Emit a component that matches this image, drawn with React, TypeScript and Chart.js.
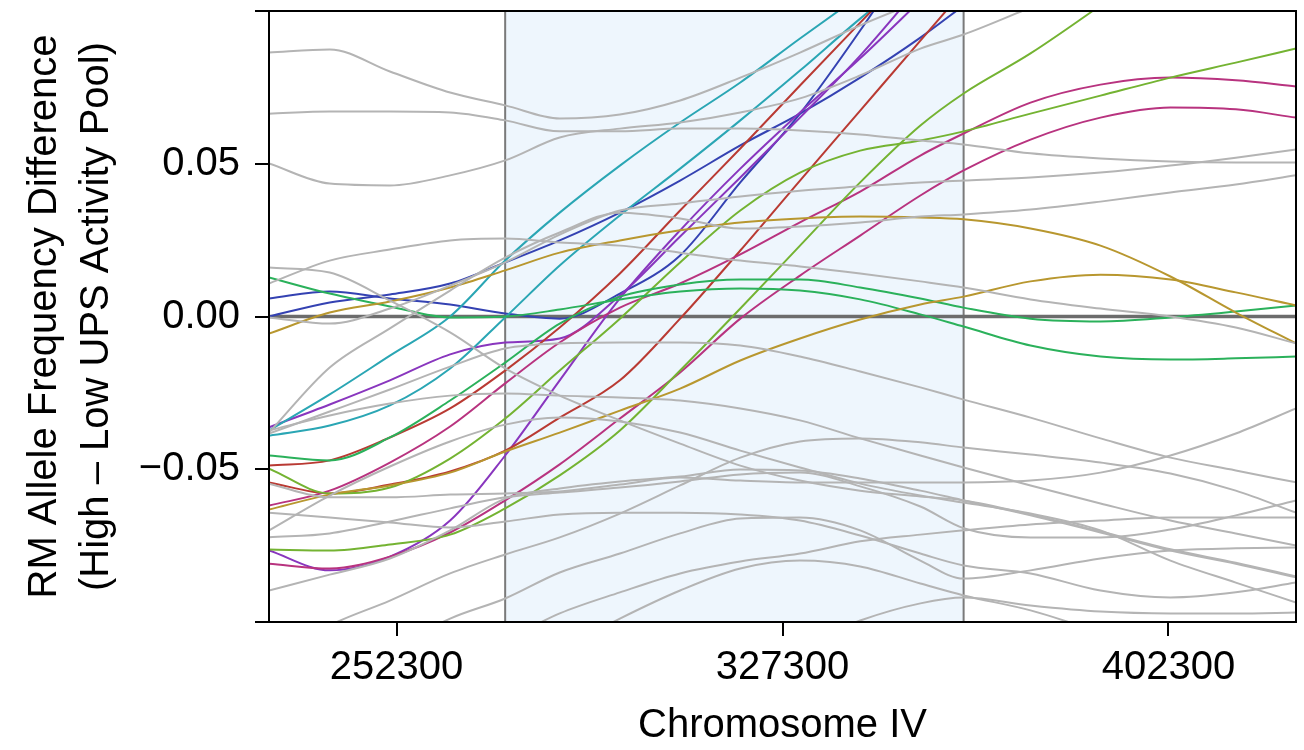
import React, { useEffect, useRef } from 'react';
import { Chart, registerables } from 'chart.js';

Chart.register(...registerables);

// ---- axes ----
const xMin = 227500;
const xMax = 427100;
const yMin = -0.1;
const yMax = 0.1;
const xTickValues = [252300, 327300, 402300];
const xTickLabels = ['252300', '327300', '402300'];
const yTickValues = [-0.1, -0.05, 0, 0.05, 0.1];
const yTickLabels = ['', '\u22120.05', '0.00', '0.05', ''];
const regionStart = 273400;
const regionEnd = 362500;
const xTitle = 'Chromosome IV';
const yTitle = ['RM Allele Frequency Difference', '(High \u2013 Low UPS Activity Pool)'];

// ---- sample positions along Chromosome IV ----
const positions = [227500, 239300, 251000, 262700, 273400, 284000, 295700, 307400, 319100, 330700, 342400, 354100, 362500, 375500, 389100, 402700, 415400, 427100];

// ---- highlighted series ----
const blueA = [0.0059, 0.0082, 0.0059, 0.0039, 0.0010, -0.0007, 0.0075, 0.0200, 0.0439, 0.0664, 0.0936, 0.1231, null, null, null, null, null, null];
const blueB = [0.0000, 0.0046, 0.0072, 0.0108, 0.0177, 0.0249, 0.0340, 0.0445, 0.0560, 0.0664, 0.0782, 0.0913, 0.1018, null, null, null, null, null];
const cyanA = [-0.0373, -0.0255, -0.0128, 0.0000, 0.0183, 0.0340, 0.0494, 0.0635, 0.0766, 0.0910, 0.1051, null, null, null, null, null, null, null];
const cyanB = [-0.0390, -0.0357, -0.0291, -0.0170, -0.0003, 0.0167, 0.0331, 0.0484, 0.0642, 0.0805, 0.0975, 0.1133, null, null, null, null, null, null];
const purpleA = [-0.0363, -0.0288, -0.0209, -0.0124, -0.0085, -0.0072, 0.0069, 0.0262, 0.0455, 0.0651, 0.0854, 0.1083, null, null, null, null, null, null];
const purpleB = [-0.0766, -0.0831, -0.0786, -0.0668, -0.0455, -0.0209, 0.0059, 0.0282, 0.0484, 0.0668, 0.0845, 0.1034, null, null, null, null, null, null];
const redA = [-0.0488, -0.0471, -0.0396, -0.0301, -0.0177, -0.0036, 0.0141, 0.0347, 0.0550, 0.0756, 0.0962, 0.1165, null, null, null, null, null, null];
const redB = [-0.0543, -0.0579, -0.0550, -0.0507, -0.0439, -0.0331, -0.0209, -0.0007, 0.0216, 0.0445, 0.0674, 0.0903, 0.1067, null, null, null, null, null];
const greenA = [0.0128, 0.0075, 0.0033, -0.0003, 0.0000, 0.0023, 0.0056, 0.0082, 0.0092, 0.0085, 0.0056, 0.0007, -0.0033, -0.0095, -0.0131, -0.0141, -0.0137, -0.0131];
const greenB = [-0.0455, -0.0471, -0.0396, -0.0275, -0.0151, -0.0023, 0.0065, 0.0105, 0.0121, 0.0121, 0.0095, 0.0059, 0.0029, -0.0007, -0.0016, -0.0003, 0.0016, 0.0036];
const limeA = [-0.0498, -0.0579, -0.0560, -0.0465, -0.0334, -0.0177, -0.0007, 0.0177, 0.0347, 0.0471, 0.0543, 0.0576, 0.0606, 0.0664, 0.0723, 0.0782, 0.0831, 0.0877];
const limeB = [-0.0763, -0.0766, -0.0746, -0.0714, -0.0628, -0.0520, -0.0373, -0.0177, 0.0026, 0.0232, 0.0439, 0.0625, 0.0730, 0.0861, 0.1018, 0.1182, null, null];
const magentaA = [-0.0619, -0.0570, -0.0478, -0.0360, -0.0219, -0.0085, 0.0029, 0.0108, 0.0203, 0.0308, 0.0409, 0.0527, 0.0599, 0.0700, 0.0759, 0.0782, 0.0773, 0.0753];
const magentaB = [-0.0809, -0.0825, -0.0786, -0.0707, -0.0602, -0.0484, -0.0334, -0.0183, -0.0007, 0.0134, 0.0265, 0.0396, 0.0478, 0.0579, 0.0651, 0.0684, 0.0678, 0.0651];
const goldA = [-0.0056, 0.0013, 0.0049, 0.0095, 0.0151, 0.0209, 0.0249, 0.0282, 0.0308, 0.0321, 0.0327, 0.0324, 0.0318, 0.0288, 0.0232, 0.0131, 0.0013, -0.0088];
const goldB = [-0.0632, -0.0583, -0.0553, -0.0511, -0.0442, -0.0380, -0.0308, -0.0236, -0.0144, -0.0072, -0.0010, 0.0039, 0.0065, 0.0115, 0.0137, 0.0121, 0.0079, 0.0036];

// ---- background (grey) series ----
const grey1 = [0.0864, 0.0874, 0.0802, 0.0733, 0.0691, 0.0648, 0.0661, 0.0707, 0.0782, 0.0864, 0.0953, 0.1034, null, null, null, null, null, null];
const grey2 = [0.0664, 0.0671, 0.0671, 0.0668, 0.0642, 0.0606, 0.0606, 0.0615, 0.0615, 0.0609, 0.0596, 0.0576, 0.0563, 0.0534, 0.0517, 0.0507, 0.0504, 0.0504];
const grey3 = [0.0501, 0.0435, 0.0429, 0.0462, 0.0511, 0.0586, 0.0615, 0.0635, 0.0668, 0.0714, 0.0789, 0.0877, 0.0923, 0.1011, 0.1100, null, null, null];
const grey4 = [0.0108, 0.0183, 0.0219, 0.0249, 0.0255, 0.0242, 0.0232, 0.0209, 0.0183, 0.0164, 0.0141, 0.0115, 0.0095, 0.0056, 0.0026, 0.0000, -0.0036, -0.0088];
const grey5 = [0.0160, 0.0144, 0.0052, -0.0052, -0.0170, -0.0259, -0.0340, -0.0416, -0.0488, -0.0537, -0.0570, -0.0589, -0.0602, -0.0648, -0.0704, -0.0762, -0.0806, -0.0851];
const grey6 = [-0.0003, -0.0023, 0.0026, 0.0101, 0.0177, 0.0268, 0.0347, 0.0370, 0.0393, 0.0412, 0.0426, 0.0439, 0.0445, 0.0455, 0.0471, 0.0494, 0.0520, 0.0547];
const grey7 = [-0.0380, -0.0167, -0.0039, 0.0085, 0.0193, 0.0275, 0.0340, 0.0321, 0.0288, 0.0295, 0.0308, 0.0327, 0.0334, 0.0350, 0.0376, 0.0406, 0.0432, 0.0462];
const grey8 = [-0.0383, -0.0311, -0.0239, -0.0164, -0.0105, -0.0088, -0.0085, -0.0085, -0.0095, -0.0131, -0.0180, -0.0232, -0.0272, -0.0331, -0.0399, -0.0462, -0.0504, -0.0543];
const grey9 = [-0.0373, -0.0324, -0.0285, -0.0259, -0.0252, -0.0259, -0.0265, -0.0275, -0.0301, -0.0340, -0.0399, -0.0455, -0.0494, -0.0553, -0.0612, -0.0668, -0.0710, -0.0750];
const grey10 = [-0.0700, -0.0586, -0.0491, -0.0409, -0.0354, -0.0331, -0.0344, -0.0380, -0.0439, -0.0494, -0.0547, -0.0586, -0.0609, -0.0645, -0.0700, -0.0799, -0.0871, -0.0936];
const grey11 = [-0.0547, -0.0592, -0.0592, -0.0583, -0.0579, -0.0573, -0.0550, -0.0527, -0.0537, -0.0543, -0.0543, -0.0543, -0.0543, -0.0537, -0.0511, -0.0455, -0.0383, -0.0301];
const grey12 = [-0.0723, -0.0710, -0.0671, -0.0628, -0.0592, -0.0576, -0.0560, -0.0540, -0.0517, -0.0511, -0.0556, -0.0622, -0.0693, -0.0723, -0.0723, -0.0697, -0.0651, -0.0602];
const grey13 = [-0.0897, -0.0845, -0.0792, -0.0700, -0.0596, -0.0563, -0.0540, -0.0524, -0.0501, -0.0504, -0.0530, -0.0570, -0.0602, -0.0651, -0.0707, -0.0766, -0.0809, -0.0854];
const grey14 = [-0.0642, -0.0658, -0.0674, -0.0691, -0.0671, -0.0648, -0.0642, -0.0642, -0.0648, -0.0668, -0.0717, -0.0776, -0.0815, -0.0841, -0.0897, -0.0920, -0.0903, -0.0871];
const grey15 = [-0.1126, -0.1011, -0.0930, -0.0841, -0.0779, -0.0723, -0.0645, -0.0553, -0.0462, -0.0409, -0.0399, -0.0412, -0.0429, -0.0452, -0.0478, -0.0514, -0.0570, -0.0642];
const grey16 = [null, -0.1224, -0.1093, -0.0989, -0.0923, -0.0838, -0.0776, -0.0710, -0.0661, -0.0658, -0.0700, -0.0799, -0.0858, -0.0831, -0.0792, -0.0766, -0.0759, -0.0756];
const grey17 = [null, null, null, null, -0.1061, -0.0972, -0.0903, -0.0841, -0.0802, -0.0776, -0.0736, -0.0714, -0.0700, -0.0681, -0.0668, -0.0658, -0.0658, -0.0658];
const grey18 = [null, null, null, null, null, -0.1093, -0.0989, -0.0897, -0.0825, -0.0799, -0.0818, -0.0874, -0.0913, -0.0962, -0.1034, null, null, null];
const grey19 = [null, null, null, null, null, null, null, null, null, -0.1077, -0.0995, -0.0939, -0.0920, -0.0946, -0.0966, -0.0972, -0.0972, -0.0969];

const GREY = '#b4b4b4';
const BLUE = '#3442b2';
const CYAN = '#2aa6b4';
const PURPLE = '#8936be';
const RED = '#b93a33';
const GREEN = '#2bb15b';
const LIME = '#74b332';
const MAGENTA = '#b8337f';
const GOLD = '#b8972f';

const greySeries = [grey1, grey2, grey3, grey4, grey5, grey6, grey7, grey8, grey9, grey10, grey11, grey12, grey13, grey14, grey15, grey16, grey17, grey18, grey19];
const colourSeries: [Array<number | null>, string][] = [
  [goldA, GOLD], [goldB, GOLD],
  [greenA, GREEN], [greenB, GREEN],
  [limeA, LIME], [limeB, LIME],
  [magentaA, MAGENTA], [magentaB, MAGENTA],
  [redA, RED], [redB, RED],
  [cyanA, CYAN], [cyanB, CYAN],
  [purpleA, PURPLE], [purpleB, PURPLE],
  [blueA, BLUE], [blueB, BLUE],
];

const FONT = '"Liberation Sans", Arial, Helvetica, sans-serif';

function toPoints(values: Array<number | null>) {
  return positions
    .map((x, i) => ({ x, y: values[i] }))
    .filter((p) => p.y !== null && p.y !== undefined);
}

function makeDataset(values: Array<number | null>, color: string) {
  return {
    data: toPoints(values),
    borderColor: color,
    borderWidth: 2,
    pointRadius: 0,
    fill: false,
    cubicInterpolationMode: 'monotone' as const,
    clip: 0,
  };
}

const decorPlugin = {
  id: 'decor',
  beforeDatasetsDraw(chart: any) {
    const { ctx, chartArea: a, scales } = chart;
    const x0 = scales.x.getPixelForValue(regionStart);
    const x1 = scales.x.getPixelForValue(regionEnd);
    ctx.save();
    ctx.fillStyle = '#eef6fd';
    ctx.fillRect(x0, a.top, x1 - x0, a.bottom - a.top);
    ctx.strokeStyle = '#7a7a7a';
    ctx.lineWidth = 2;
    ctx.beginPath();
    ctx.moveTo(x0, a.top);
    ctx.lineTo(x0, a.bottom);
    ctx.moveTo(x1, a.top);
    ctx.lineTo(x1, a.bottom);
    ctx.stroke();
    const y0 = scales.y.getPixelForValue(0);
    ctx.strokeStyle = '#6c6c6c';
    ctx.lineWidth = 3.5;
    ctx.beginPath();
    ctx.moveTo(a.left, y0);
    ctx.lineTo(a.right, y0);
    ctx.stroke();
    ctx.restore();
  },
  afterDraw(chart: any) {
    const { ctx, chartArea: a } = chart;
    ctx.save();
    ctx.strokeStyle = '#000';
    ctx.lineWidth = 2;
    ctx.strokeRect(a.left, a.top, a.right - a.left, a.bottom - a.top);
    ctx.restore();
  },
};

export default function App() {
  const canvasRef = useRef<HTMLCanvasElement>(null);

  useEffect(() => {
    if (!canvasRef.current) return;
    const datasets = [
      ...greySeries.map((s) => makeDataset(s, GREY)),
      ...colourSeries.map(([s, c]) => makeDataset(s, c)),
    ];
    const chart = new Chart(canvasRef.current, {
      type: 'line',
      data: { datasets },
      plugins: [decorPlugin],
      options: {
        responsive: false,
        animation: false,
        devicePixelRatio: 1,
        layout: { padding: { top: 11, right: 8, left: 0, bottom: 0 } },
        plugins: { legend: { display: false }, tooltip: { enabled: false } },
        scales: {
          x: {
            type: 'linear',
            min: xMin,
            max: xMax,
            afterBuildTicks: (s: any) => {
              s.ticks = xTickValues.map((v) => ({ value: v }));
            },
            afterFit: (s: any) => {
              s.height = 128;
              s.paddingLeft = 0;
              s.paddingRight = 0;
            },
            ticks: {
              color: '#000',
              font: { family: FONT, size: 40 },
              padding: 8,
              maxRotation: 0,
              autoSkip: false,
              callback: (_v: any, i: number) => xTickLabels[i],
            },
            grid: { drawOnChartArea: false, drawTicks: true, tickLength: 14, color: '#000', lineWidth: 2 },
            border: { display: true, color: '#000', width: 2 },
            title: {
              display: true,
              text: xTitle,
              color: '#000',
              font: { family: FONT, size: 40, lineHeight: 1.2 },
              padding: { top: 0, bottom: 0 },
            },
          },
          y: {
            type: 'linear',
            min: yMin,
            max: yMax,
            afterBuildTicks: (s: any) => {
              s.ticks = yTickValues.map((v) => ({ value: v }));
            },
            afterFit: (s: any) => {
              s.width = 269;
              s.paddingTop = 0;
              s.paddingBottom = 0;
            },
            ticks: {
              color: '#000',
              font: { family: FONT, size: 40 },
              padding: 15,
              autoSkip: false,
              callback: (_v: any, i: number) => yTickLabels[i],
            },
            grid: { drawOnChartArea: false, drawTicks: true, tickLength: 14, color: '#000', lineWidth: 2 },
            border: { display: true, color: '#000', width: 2 },
            title: {
              display: true,
              text: yTitle,
              color: '#000',
              font: { family: FONT, size: 40, lineHeight: 1.3 },
              padding: { top: 19, bottom: 0 },
            },
          },
        },
      },
    });
    return () => chart.destroy();
  }, []);

  return (
    <div style={{ position: 'absolute', left: 0, top: 0, width: 1304, height: 750, background: '#fff' }}>
      <canvas ref={canvasRef} width={1304} height={750} style={{ display: 'block' }} />
    </div>
  );
}
